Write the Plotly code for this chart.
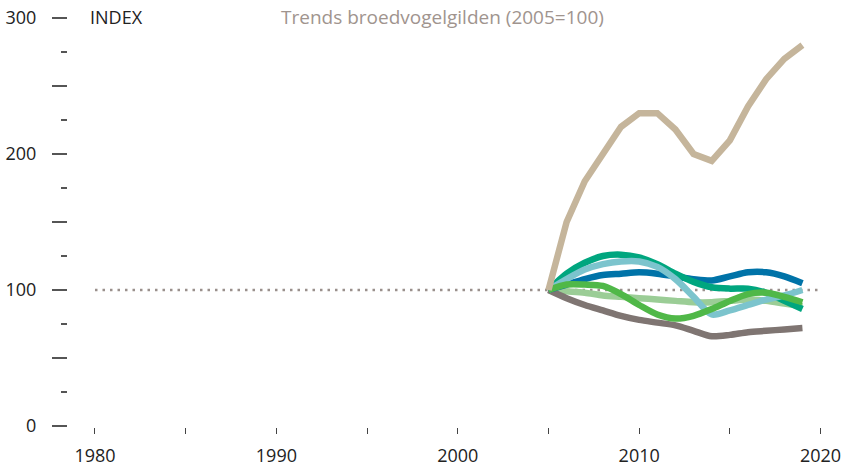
import plotly.graph_objects as go

years = list(range(2005, 2020))

beige = [100, 150, 180, 200, 220, 230, 230, 218, 200, 195, 210, 235, 255, 270, 280]
blue = [100, 104, 108, 111, 112, 113, 112, 110, 108, 107, 110, 113, 113, 110, 105]
teal = [100, 112, 120, 125, 126, 124, 119, 112, 106, 102, 101, 101, 98, 92, 86]
lightblue = [100, 108, 115, 119, 121, 121, 117, 108, 95, 82, 85, 89, 93, 96, 100]
green = [100, 104, 104, 103, 97, 89, 82, 79, 81, 86, 92, 97, 98, 95, 91]
palegreen = [100, 99, 98, 96, 95, 94, 93, 92, 91, 91, 92, 93, 92, 90, 88]
gray = [100, 94, 89, 85, 81, 78, 76, 74, 70, 66, 67, 69, 70, 71, 72]

ref_years = [1980, 2020]
ref_values = [100, 100]

x_ticks = [1980, 1985, 1990, 1995, 2000, 2005, 2010, 2015, 2020]
x_labels = ["1980", "", "1990", "", "2000", "", "2010", "", "2020"]
y_ticks = [0, 50, 100, 150, 200, 250, 300]
y_labels = ["0", "", "100", "", "200", "", "300"]

title_text = "Trends broedvogelgilden (2005=100)"
index_text = "INDEX"

fig = go.Figure()

fig.add_trace(go.Scatter(x=ref_years, y=ref_values, mode="lines",
                         line=dict(color="#9a908c", width=2.5, dash="2.5px,5px"),
                         hoverinfo="skip"))

series = [
    (palegreen, "#9bcd96", "spline"),
    (gray, "#7f7572", "spline"),
    (blue, "#0073a8", "spline"),
    (teal, "#00a67f", "spline"),
    (lightblue, "#7cc4cd", "spline"),
    (green, "#50b848", "spline"),
    (beige, "#c5b59b", "linear"),
]
for vals, col, shape in series:
    fig.add_trace(go.Scatter(x=years, y=vals, mode="lines",
                             line=dict(color=col, width=6.5, shape=shape, smoothing=0.8)))

font_family = "Open Sans, sans-serif"

fig.update_layout(
    width=846, height=469,
    margin=dict(l=68, r=16, t=10, b=42, pad=0),
    paper_bgcolor="white", plot_bgcolor="white",
    showlegend=False,
    font=dict(family=font_family, size=18, color="#222"),
    xaxis=dict(range=[1978.512, 2020.52], tickvals=x_ticks, ticktext=x_labels,
               ticks="outside", ticklen=6, tickwidth=1.2, tickcolor="#444",
               showgrid=False, zeroline=False, showline=False,
               ticklabelstandoff=6, automargin=False,
               tickfont=dict(size=18, color="#222", family=font_family)),
    yaxis=dict(range=[-0.735, 305.88], tickvals=y_ticks, ticktext=y_labels,
               ticks="outside", ticklen=15, tickwidth=1.5, tickcolor="#555",
               minor=dict(tickvals=[25, 75, 125, 175, 225, 275], ticks="outside",
                          ticklen=6, tickwidth=1.5, tickcolor="#555", showgrid=False),
               showgrid=False, zeroline=False, showline=False,
               ticklabelstandoff=12, automargin=False,
               tickfont=dict(size=18, color="#222", family=font_family)),
)

fig.add_annotation(text=index_text, xref="paper", yref="paper",
                   x=(88 - 68) / 762, y=1 - (17 - 10) / 417,
                   xanchor="left", yanchor="middle", showarrow=False,
                   font=dict(size=18, color="#222", family=font_family))
fig.add_annotation(text=title_text, xref="paper", yref="paper",
                   x=(442 - 68) / 762, y=1 - (17 - 10) / 417,
                   xanchor="center", yanchor="middle", showarrow=False,
                   font=dict(size=19, color="#a0948e", family=font_family))

fig.write_html("out.html", config={"displayModeBar": False},
               post_script="document.body.style.margin='0';document.body.style.padding='0';")
